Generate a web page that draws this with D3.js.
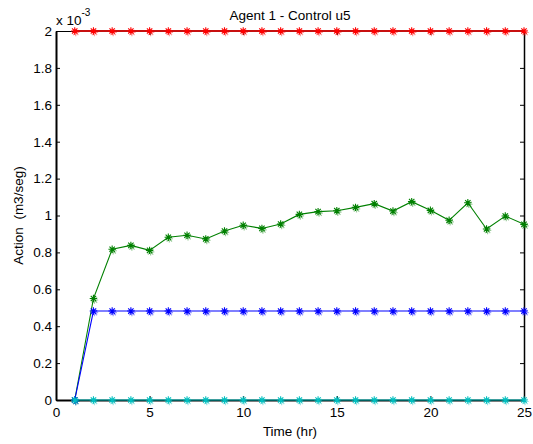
<!DOCTYPE html>
<html>
<head>
<meta charset="utf-8">
<script src="https://cdn.jsdelivr.net/npm/d3@7/dist/d3.min.js"></script>
<style>
  html, body { margin: 0; padding: 0; background: #fff; }
  svg { display: block; font-family: "Liberation Sans", Arial, sans-serif; }
</style>
</head>
<body>
<svg id="chart" width="533" height="444"></svg>
<script>
// Time samples (hours)
const hours = d3.range(1, 26);
// Control action series, in units of 1e-3 m3/seg
const redSeries = hours.map(() => 2);
const greenSeries = [0, 0.55, 0.817, 0.838, 0.811, 0.882, 0.893, 0.873, 0.916, 0.947,
                     0.930, 0.954, 1.006, 1.021, 1.026, 1.044, 1.064, 1.024, 1.075, 1.028,
                     0.974, 1.069, 0.927, 0.997, 0.952];
const blueSeries = [0, 0.482, 0.482, 0.482, 0.482, 0.482, 0.482, 0.482, 0.482, 0.482,
                    0.482, 0.482, 0.482, 0.482, 0.482, 0.482, 0.482, 0.482, 0.482, 0.482,
                    0.482, 0.482, 0.482, 0.482, 0.482];
const cyanSeries = hours.map(() => 0);
const xTicks = [0, 5, 10, 15, 20, 25];
const yTicks = [0, 0.2, 0.4, 0.6, 0.8, 1, 1.2, 1.4, 1.6, 1.8, 2];

const series = [
  { values: redSeries, color: "#ff0000", lineColor: "#c81010", width: 2 },
  { values: greenSeries, color: "#008000", lineColor: "#008000", width: 1.1 },
  { values: blueSeries, color: "#0000ff", lineColor: "#0000ff", width: 1.1 },
  { values: cyanSeries, color: "#00bfbf", lineColor: "#00bfbf", width: 1.1 }
];

const fontSize = "13.5px";
const plotLeft = 56, plotRight = 524, plotTop = 31, plotBottom = 400;
const svg = d3.select("#chart");
const x = d3.scaleLinear().domain([0, 25]).range([plotLeft, plotRight]);
const y = d3.scaleLinear().domain([0, 2]).range([plotBottom, plotTop]);
const fmt = d => String(+d.toFixed(1));

// Axes with inward ticks
const gl = svg.append("g").attr("transform", `translate(${plotLeft},0)`)
  .call(d3.axisLeft(y).tickValues(yTicks).tickFormat(fmt).tickSizeInner(-4).tickSizeOuter(0).tickPadding(4));
const gr = svg.append("g").attr("transform", `translate(${plotRight},0)`)
  .call(d3.axisRight(y).tickValues(yTicks).tickFormat("").tickSizeInner(-4).tickSizeOuter(0));
const gb = svg.append("g").attr("transform", `translate(0,${plotBottom})`)
  .call(d3.axisBottom(x).tickValues(xTicks).tickSizeInner(-4).tickSizeOuter(0).tickPadding(7));
const gt = svg.append("g").attr("transform", `translate(0,${plotTop})`)
  .call(d3.axisTop(x).tickValues(xTicks).tickFormat("").tickSizeInner(-4).tickSizeOuter(0));

[gl, gr, gb, gt].forEach(g => {
  g.selectAll("text").attr("fill", "#000").style("font-size", fontSize)
    .style("font-family", "'Liberation Sans', Arial, sans-serif");
  g.selectAll("line").attr("stroke", "#000");
  g.select(".domain").attr("stroke", "#000");
});
gl.select(".domain").attr("stroke-width", 2);
gb.select(".domain").attr("stroke-width", 2);
gr.select(".domain").attr("stroke-width", 1.5);

// Series lines and asterisk markers
const line = d3.line().x((d, i) => x(hours[i])).y(d => y(d));
const star = d3.symbol().type({
  draw(ctx, size) {
    const r = Math.sqrt(size) / 2;
    const q = r * 0.72;
    ctx.moveTo(-r, 0); ctx.lineTo(r, 0);
    ctx.moveTo(0, -r); ctx.lineTo(0, r);
    ctx.moveTo(-q, -q); ctx.lineTo(q, q);
    ctx.moveTo(-q, q); ctx.lineTo(q, -q);
  }
}).size(56);

series.forEach(s => {
  const g = svg.append("g");
  g.append("path").datum(s.values).attr("d", line)
    .attr("fill", "none").attr("stroke", s.lineColor).attr("stroke-width", s.width);
  g.selectAll("path.ghost").data(s.values).join("path").attr("class", "ghost")
    .attr("d", star).attr("transform", (d, i) => `translate(${x(hours[i]) + 1},${y(d) + 1.5})`)
    .attr("fill", "none").attr("stroke", s.color).attr("stroke-opacity", 0.4).attr("stroke-width", 1.2);
  g.selectAll("path.mark").data(s.values).join("path").attr("class", "mark")
    .attr("d", star).attr("transform", (d, i) => `translate(${x(hours[i])},${y(d)})`)
    .attr("fill", "none").attr("stroke", s.color).attr("stroke-width", 1.1);
});

// Title, labels and exponent note
svg.append("text").attr("x", 290).attr("y", 19.5).attr("text-anchor", "middle")
  .style("font-size", fontSize).text("Agent 1 - Control u5");
svg.append("text").attr("x", 290).attr("y", 436).attr("text-anchor", "middle")
  .style("font-size", fontSize).text("Time (hr)");
svg.append("text").attr("transform", "translate(23,215.5) rotate(-90)").attr("text-anchor", "middle")
  .style("font-size", fontSize).style("white-space", "pre").text("Action  (m3/seg)");
const ex = svg.append("text").attr("x", 56).attr("y", 25).style("font-size", fontSize);
ex.append("tspan").text("x 10");
ex.append("tspan").attr("dy", -9).style("font-size", "10px").text("-3");
</script>
</body>
</html>
